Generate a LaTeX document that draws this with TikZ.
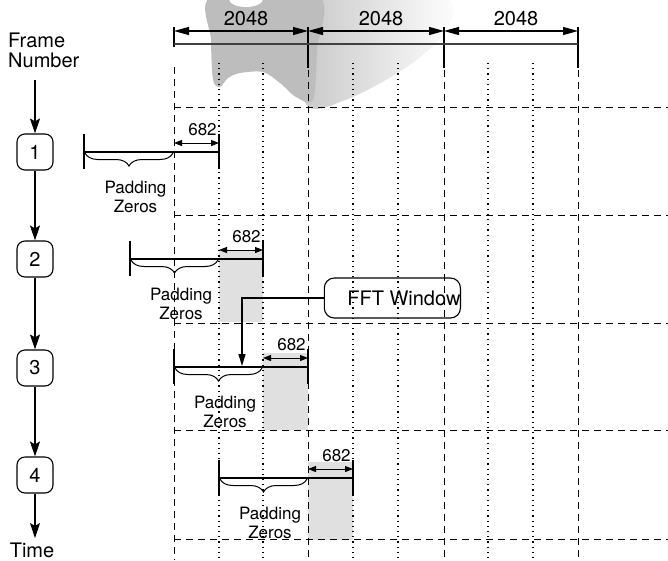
\documentclass[tikz,border=0pt]{standalone}
\usepackage{fontspec}
\setmainfont{TeX Gyre Heros}
\usetikzlibrary{arrows.meta,decorations.pathreplacing}
\begin{document}
\begin{tikzpicture}[x=1pt,y=-1pt,
  bigfont/.style={font=\fontsize{20}{22}\selectfont},
  smallfont/.style={font=\fontsize{17}{18.5}\selectfont},
  framebox/.style={draw,line width=1.1pt,rounded corners=8pt,minimum width=36pt,minimum height=36pt,inner sep=0pt,bigfont},
  flowarrow/.style={line width=1.1pt,-{Stealth[length=15pt,width=10pt,inset=3pt]}},
  dimarrow/.style={line width=1.1pt,{Triangle[length=15pt,width=8pt]}-{Triangle[length=15pt,width=8pt]}},
  smallarrow/.style={line width=1pt,{Triangle[length=8pt,width=6pt]}-{Triangle[length=8pt,width=6pt]}},
  majorgrid/.style={line width=1pt,dash pattern=on 7pt off 5pt},
  minorgrid/.style={line width=1.1pt,dash pattern=on 1.2pt off 4pt},
  tickline/.style={line width=1.4pt},
  framebar/.style={line width=1.4pt},
  padbrace/.style={line width=1pt,decorate,decoration={brace,mirror,amplitude=13pt}},
  shade/.style={fill=black!12,draw=none}
]
\useasboundingbox (0,0) rectangle (668,560);

% scanned grey background: light fading part and darker core
\shade[left color=black!24,right color=white] plot[smooth cycle, tension=0.5] coordinates {
  (300,-4) (440,-4) (446,30) (405,68) (345,100) (305,102)};
\fill[black!26] plot[smooth cycle, tension=0.5] coordinates {
  (212,-4) (318,-4) (317,50) (313,100) (296,97) (280,83) (263,72) (240,73) (228,78) (220,87) (213,80) (211,40)};
\fill[white] (246,-1) ellipse (17pt and 8pt);

% highlighted new-sample columns
\fill[shade] (219,250) rectangle (263,322);
\fill[shade] (263,353) rectangle (308,430);
\fill[shade] (308,462) rectangle (353,540);

% grid
\foreach \gx in {219,263,353,398,488,533} {
  \draw[minorgrid] (\gx,63) -- (\gx,560);
}
\foreach \gx in {308,444,578} {
  \draw[line width=1.1pt] (\gx,27) -- (\gx,68);
  \draw[majorgrid] (\gx,70) -- (\gx,560);
}
\draw[line width=1.1pt] (174,27) -- (174,47);
\draw[majorgrid] (174,67) -- (174,560);
\foreach \gy in {107,215,323,430,539} {
  \draw[majorgrid] (174,\gy) -- (668,\gy);
}

% top dimensions
\draw[line width=1.2pt,black!75] (174,44) -- (578,44);
\coordinate (d0) at (174,31);
\coordinate (d1) at (308,31);
\coordinate (d2) at (444,31);
\coordinate (d3) at (578,31);
\draw[dimarrow] (d0) -- (d1);
\draw[dimarrow] (d1) -- (d2);
\draw[dimarrow] (d2) -- (d3);
\node[bigfont] (dl1) at (246,19) {2048};
\node[bigfont] (dl2) at (381,19) {2048};
\node[bigfont] (dl3) at (516,19) {2048};

% frame number column
\node[bigfont,align=left,anchor=west,inner sep=0pt] (framelabel) at (8,50) {Frame\\[-2pt]Number};
\node[framebox] (f1) at (35,152) {1};
\node[framebox] (f2) at (35,259) {2};
\node[framebox] (f3) at (35,368) {3};
\node[framebox] (f4) at (35,475) {4};
\node[bigfont,inner sep=0pt] (timelabel) at (32,550) {Time};
\draw[flowarrow] (35,80) -- (f1.north);
\draw[flowarrow] (f1) -- (f2);
\draw[flowarrow] (f2) -- (f3);
\draw[flowarrow] (f3) -- (f4);
\draw[flowarrow] (f4) -- (35,538);

% frames
\foreach \i/\L/\M/\R/\Y in {1/84/174/219/152, 2/130/219/263/259, 3/174/263/308/367, 4/219/308/353/478} {
  \coordinate (l\i) at (\L,\Y);
  \coordinate (m\i) at (\M,\Y);
  \coordinate (r\i) at (\R,\Y);
  \draw[tickline] (\L,\Y-18) -- (\L,\Y+17);
  \draw[tickline] (\R,\Y-18) -- (\R,\Y+17);
  \draw[framebar] (l\i) -- (r\i);
  \draw[smallarrow] (\M,\Y-9) -- (\R,\Y-9);
  \node[smallfont,inner sep=0pt] (n\i) at (\R-16.5,\Y-22.5) {682};
  \draw[padbrace] (\L+1,\Y+1) -- (\M-1,\Y+1);
  \node[smallfont,align=center,inner sep=0pt] (p\i) at ({(\L+\M)/2+6.5},\Y+45) {Padding\\Zeros};
}

% FFT window callout
\node[draw,line width=1.1pt,rounded corners=10pt,bigfont,inner xsep=0pt,minimum height=40pt,anchor=east] (fft) at (461,298) {\hspace*{23pt}FFT Window};
\coordinate (fftend) at (242,366);
\draw[line width=1.1pt,-{Triangle[length=12pt,width=7pt]}] (fft.west) -| (fftend);
\end{tikzpicture}
\end{document}
